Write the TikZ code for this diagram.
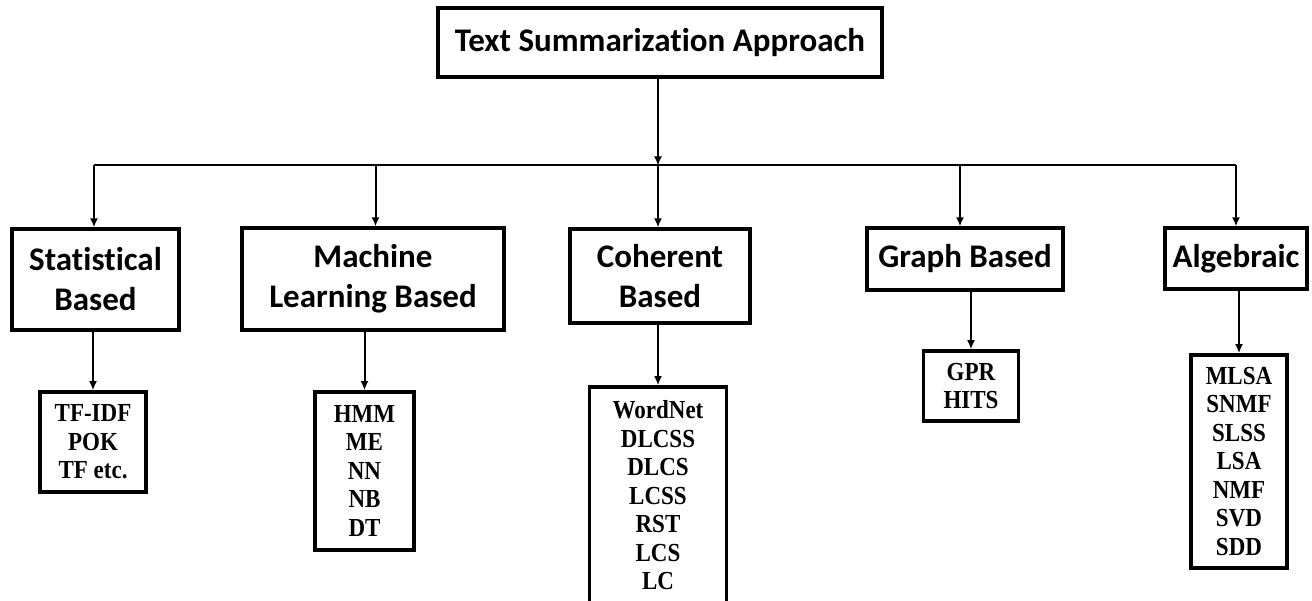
\documentclass[tikz,border=0pt]{standalone}
\usepackage{fontspec}
\setmainfont{Carlito}[Ligatures=NoCommon]
\newfontfamily\headfont{Carlito}[Ligatures=NoCommon]
\newfontfamily\subfont{Liberation Serif}[FakeStretch=0.885]
\usetikzlibrary{arrows.meta}
\begin{document}
\begin{tikzpicture}[x=1pt,y=-1pt,
  box/.style={draw=black, line width=3.3pt, inner sep=0pt, align=center, fill=white},
  rootbox/.style={box, minimum width=444pt, minimum height=69pt,
    font=\headfont\bfseries\fontsize{33}{40}\selectfont},
  catbox/.style={box, font=\headfont\bfseries\fontsize{33}{40}\selectfont},
  leafbox/.style={box, line width=3.6pt, font=\subfont\bfseries\fontsize{26}{28.5}\selectfont},
  conn/.style={draw=black, line width=2pt},
  arr/.style={conn, -{Latex[length=9pt,width=8pt]}}
]
\clip (0,0) rectangle (1312,601);
\fill[white] (0,0) rectangle (1312,601);

% root
\node[rootbox] (root) at (660,42.5) {Text Summarization Approach};

% categories
\node[catbox, minimum width=167pt, minimum height=101pt] (stat) at (95.5,279.5) {Statistical\\Based};
\node[catbox, minimum width=262pt, minimum height=102pt] (ml) at (373,279) {Machine\\Learning Based};
\node[catbox, minimum width=180pt, minimum height=94pt] (coh) at (660,276) {Coherent\\Based};
\node[catbox, minimum width=196pt, minimum height=62pt] (graph) at (965,259) {Graph Based};
\node[catbox, minimum width=142pt, minimum height=61pt] (alg) at (1236,258.5) {Algebraic};

% leaves
\node[leafbox, minimum width=106pt, minimum height=100pt] (s3) at (93,442) {TF-IDF\\POK\\TF etc.};
\node[leafbox, minimum width=99pt, minimum height=158pt] (m3) at (364.5,471) {HMM\\ME\\NN\\NB\\DT};
\node[leafbox, minimum width=137pt, minimum height=217pt] (c3) at (658,495.5) {WordNet\\DLCSS\\DLCS\\LCSS\\RST\\LCS\\LC};
\node[leafbox, minimum width=95pt, minimum height=70pt] (g3) at (971,386) {GPR\\HITS};
\node[leafbox, minimum width=96pt, minimum height=213pt] (a3) at (1239,461.5) {MLSA\\SNMF\\SLSS\\LSA\\NMF\\SVD\\SDD};

% bus coordinates
\coordinate (d1) at (94,165.5);
\coordinate (d2) at (375.5,165.5);
\coordinate (d3) at (658,165.5);
\coordinate (d4) at (960,165.5);
\coordinate (d5) at (1236,165.5);

\draw[arr] (d3 |- root.south) -- (d3);
\draw[conn] (d1) -- (d5);
\draw[arr] (d1) -- (d1 |- stat.north);
\draw[arr] (d2) -- (d2 |- ml.north);
\draw[arr] (d3) -- (d3 |- coh.north);
\draw[arr] (d4) -- (d4 |- graph.north);
\draw[arr] (d5) -- (d5 |- alg.north);

\draw[arr] (s3.north |- stat.south) -- (s3.north);
\draw[arr] (m3.north |- ml.south) -- (m3.north);
\draw[arr] (c3.north |- coh.south) -- (c3.north);
\draw[arr] (g3.north |- graph.south) -- (g3.north);
\draw[arr] (a3.north |- alg.south) -- (a3.north);
\end{tikzpicture}
\end{document}
